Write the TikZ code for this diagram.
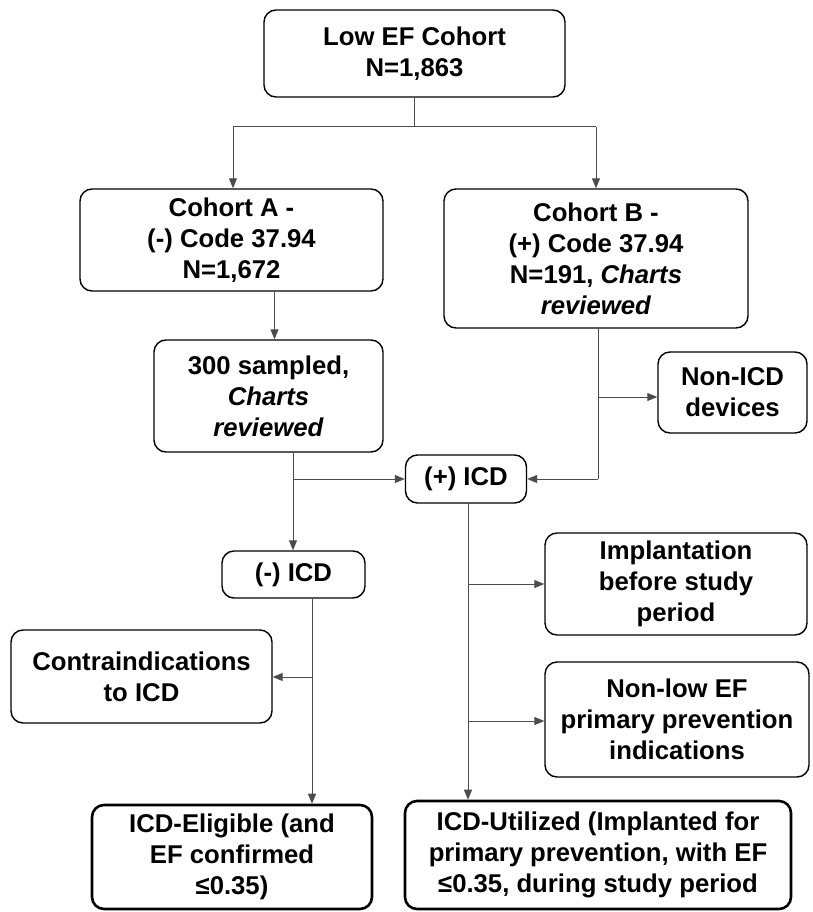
\documentclass[tikz,border=0pt]{standalone}
\usepackage{fontspec}
\setmainfont{Liberation Sans}
\usetikzlibrary{arrows.meta}
\begin{document}
\begin{tikzpicture}[x=1pt,y=-1pt,
  box/.style={draw=black, line width=1.4pt, rounded corners=12pt, inner sep=0pt, align=center,
    font=\fontsize{25.7}{31}\selectfont\bfseries},
  thickbox/.style={box, line width=2.6pt},
  conn/.style={draw=black!70, line width=1pt},
  arr/.style={conn, -{Triangle[length=10pt,width=8pt]}}]
\useasboundingbox (0,0) rectangle (812,912);
\fill[white] (0,0) rectangle (812,912);

\node[box, minimum width=301pt, minimum height=87pt] (low) at (414.5,53.5) {Low EF Cohort\\N=1,863};
\node[box, minimum width=303pt, minimum height=102pt] (ca) at (231.5,240) {Cohort A -\\(-) Code 37.94\\N=1,672};
\node[box, minimum width=304pt, minimum height=139pt] (cb) at (596,258.5) {Cohort B -\\(+) Code 37.94\\N=191, \textit{Charts}\\\textit{reviewed}};
\node[box, minimum width=229pt, minimum height=112pt] (samp) at (268.5,396) {300 sampled,\\\textit{Charts}\\\textit{reviewed}};
\node[box, minimum width=149pt, minimum height=81pt] (nonicd) at (732.5,392.5) {Non-ICD\\devices};
\node[box, minimum width=121pt, minimum height=48pt] (picd) at (466,479) {(+) ICD};
\node[box, minimum width=143pt, minimum height=47pt] (micd) at (293.5,574.5) {(-) ICD};
\node[box, minimum width=261pt, minimum height=93pt] (contra) at (141.5,676.5) {Contraindications\\to ICD};
\node[box, minimum width=262pt, minimum height=102pt] (impl) at (676,584) {Implantation\\before study\\period};
\node[box, minimum width=264pt, minimum height=115pt] (nonlow) at (677,719.5) {Non-low EF\\primary prevention\\indications};
\node[thickbox, minimum width=280pt, minimum height=104pt] (elig) at (232,857) {ICD-Eligible (and\\EF confirmed\\≤0.35)};
\node[thickbox, minimum width=386pt, minimum height=108pt] (util) at (598,855) {ICD-Utilized (Implanted for\\primary prevention, with EF\\≤0.35, during study period};

% split from top box
\coordinate (j0) at (414.5,127);
\coordinate (jl) at (233,127);
\coordinate (jr) at (596,127);
\draw[conn] (low.south) -- (j0);
\draw[conn] (jl) -- (jr);
\draw[arr] (jl) -- (ca.north -| jl);
\draw[arr] (jr) -- (cb.north -| jr);

% cohort A to sample
\coordinate (sa) at (274.5,291);
\draw[arr] (sa) -- (sa |- samp.north);

% sample down to (-)ICD with branch to (+)ICD
\coordinate (s1) at (293,452);
\coordinate (s2) at (293,479);
\draw[arr] (s1) -- (micd.north -| s1);
\draw[arr] (s2) -- (picd.west);

% cohort B down to (+)ICD with branch to Non-ICD
\coordinate (b1) at (598,328);
\coordinate (b2) at (598,479);
\coordinate (b3) at (598,397);
\draw[conn] (b1) -- (b2);
\draw[arr] (b2) -- (picd.east);
\draw[arr] (b3) -- (b3 -| nonicd.west);

% (-)ICD down to eligible with branch to contraindications
\coordinate (m1) at (312,598);
\coordinate (m2) at (312,677);
\draw[arr] (m1) -- (m1 |- elig.north);
\draw[arr] (m2) -- (m2 -| contra.east);

% (+)ICD down to utilized with branches
\coordinate (p1) at (468,503);
\coordinate (p2) at (468,584);
\coordinate (p3) at (468,721);
\draw[arr] (p1) -- (p1 |- util.north);
\draw[arr] (p2) -- (p2 -| impl.west);
\draw[arr] (p3) -- (p3 -| nonlow.west);
\end{tikzpicture}
\end{document}
